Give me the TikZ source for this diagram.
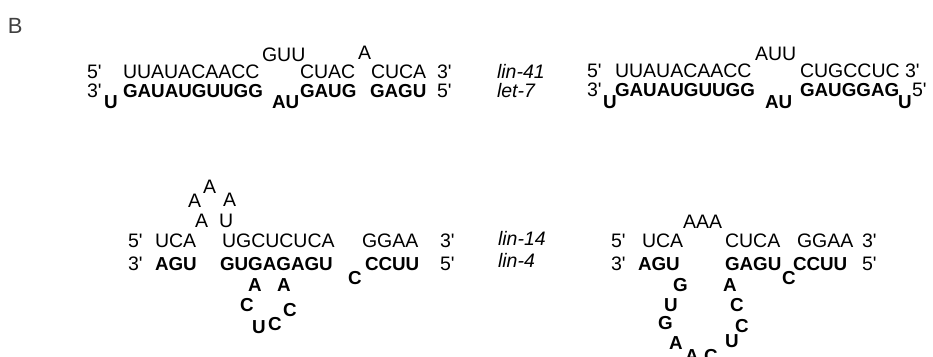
\documentclass[tikz,border=0pt]{standalone}
\usepackage{fontspec}
\setmainfont{Liberation Sans}
\newcommand{\qs}{\textquotesingle}
\begin{document}
\begin{tikzpicture}[x=1pt,y=-1pt,
  nt/.style={anchor=base west,inner sep=0pt,outer sep=0pt,font=\fontsize{19.5}{22}\selectfont},
  bt/.style={anchor=base west,inner sep=0pt,outer sep=0pt,font=\fontsize{18.8}{22}\selectfont\bfseries},
  it/.style={anchor=base west,inner sep=0pt,outer sep=0pt,font=\fontsize{19.5}{22}\selectfont\itshape},
  panel/.style={anchor=base west,inner sep=0pt,outer sep=0pt,font=\fontsize{22}{24}\selectfont,text=black!75}]
\useasboundingbox (0,0) rectangle (933,356);

\node[panel] (B) at (8,33) {B};

% ---------- top-left: lin-41 / let-7
\node[nt] (tlA5)  at (87,78)  {5\qs};
\node[nt] (tlA1)  at (123,78) {UUAUACAACC};
\node[nt] (tlAs1) at (262,61) {GUU};
\node[nt] (tlA2)  at (300,78) {CUAC};
\node[nt] (tlAs2) at (358,59) {A};
\node[nt] (tlA3)  at (371,78) {CUCA};
\node[nt] (tlA3e) at (437,78) {3\qs};
\node[nt] (tlB3)  at (87,97)  {3\qs};
\node[bt] (tlBs1) at (104,108) {U};
\node[bt] (tlB1)  at (123,97) {GAUAUGUUGG};
\node[bt] (tlBs2) at (272,108) {AU};
\node[bt] (tlB2)  at (300,97) {GAUG};
\node[bt] (tlB3b) at (370,97) {GAGU};
\node[nt] (tlB5)  at (437,97) {5\qs};

\node[it] (lab1) at (497,78) {lin-41};
\node[it] (lab2) at (497,97) {let-7};

% ---------- top-right
\node[nt] (trA5)  at (587,77)  {5\qs};
\node[nt] (trA1)  at (615,77)  {UUAUACAACC};
\node[nt] (trAs1) at (755,60)  {AUU};
\node[nt] (trA2)  at (800,77)  {CUGCCUC};
\node[nt] (trA3)  at (905,77)  {3\qs};
\node[nt] (trB3)  at (587,96)  {3\qs};
\node[bt] (trBs1) at (603,108) {U};
\node[bt] (trB1)  at (615,96)  {GAUAUGUUGG};
\node[bt] (trBs2) at (765,108) {AU};
\node[bt] (trB2)  at (800,96)  {GAUGGAG};
\node[bt] (trBs3) at (898,108) {U};
\node[nt] (trB5)  at (912,96)  {5\qs};

% ---------- bottom-left: lin-14 / lin-4
\node[nt] (blL1) at (188,207) {A};
\node[nt] (blL2) at (203,193) {A};
\node[nt] (blL3) at (223,206) {A};
\node[nt] (blL4) at (195,227) {A};
\node[nt] (blL5) at (219,227) {U};
\node[nt] (blA5) at (128,247) {5\qs};
\node[nt] (blA1) at (155,247) {UCA};
\node[nt] (blA2) at (222,247) {UGCUCUCA};
\node[nt] (blA3) at (362,247) {GGAA};
\node[nt] (blA3e) at (440,247) {3\qs};
\node[nt] (blB3) at (128,270) {3\qs};
\node[bt] (blB1) at (155,270) {AGU};
\node[bt] (blB2) at (220,270) {GUGAGAGU};
\node[bt] (blBs) at (348,284) {C};
\node[bt] (blB4) at (365,270) {CCUU};
\node[nt] (blB5) at (440,270) {5\qs};
\node[bt] (blM1) at (248,291) {A};
\node[bt] (blM2) at (277,291) {A};
\node[bt] (blM3) at (240,311) {C};
\node[bt] (blM4) at (283,316) {C};
\node[bt] (blM5) at (252,333) {U};
\node[bt] (blM6) at (268,330) {C};

\node[it] (lab3) at (498,245) {lin-14};
\node[it] (lab4) at (498,267) {lin-4};

% ---------- bottom-right
\node[nt] (brL)  at (683,228) {AAA};
\node[nt] (brA5) at (611,247) {5\qs};
\node[nt] (brA1) at (642,247) {UCA};
\node[nt] (brA2) at (725,247) {CUCA};
\node[nt] (brA3) at (797,247) {GGAA};
\node[nt] (brA3e) at (862,247) {3\qs};
\node[nt] (brB3) at (611,270) {3\qs};
\node[bt] (brB1) at (638,270) {AGU};
\node[bt] (brB2) at (725,270) {GAGU};
\node[bt] (brBs) at (782,284) {C};
\node[bt] (brB4) at (793,270) {CCUU};
\node[nt] (brB5) at (862,270) {5\qs};
\node[bt] (brM1) at (673,291) {G};
\node[bt] (brM2) at (723,291) {A};
\node[bt] (brM3) at (664,311) {U};
\node[bt] (brM4) at (730,311) {C};
\node[bt] (brM5) at (658,329) {G};
\node[bt] (brM6) at (735,332) {C};
\node[bt] (brM7) at (669,349) {A};
\node[bt] (brM8) at (725,347) {U};
\node[bt] (brM9) at (685,362) {A};
\node[bt] (brM10) at (704,362) {C};
\end{tikzpicture}
\end{document}
